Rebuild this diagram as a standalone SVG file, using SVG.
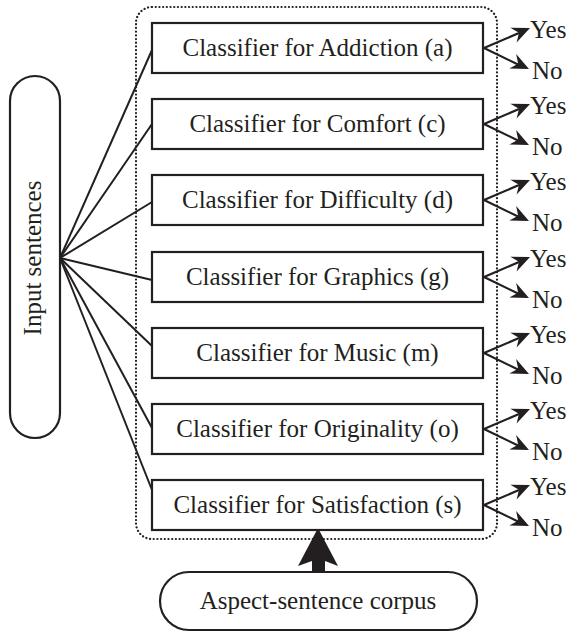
<svg xmlns="http://www.w3.org/2000/svg" width="576" height="633" viewBox="0 0 576 633" font-family="'Liberation Serif', 'Times New Roman', serif">
<style>
text{font-family:'Liberation Serif','Times New Roman',serif;font-size:25px;fill:#231f20}
.box{fill:#fff;stroke:#231f20;stroke-width:2.2}
.pill{fill:#fff;stroke:#231f20;stroke-width:2.2}
.ln{stroke:#231f20;stroke-width:2;fill:none}
.out{stroke:#231f20;stroke-width:2.2;fill:none}
.c{text-anchor:middle}
</style>
<defs>
<path id="ah" d="M0,0 L-18,-8 L-12,0 L-18,8 Z" fill="#231f20"/>
</defs>
<g id="group-frame">
<rect x="136" y="7" width="361" height="532" rx="16" fill="none" stroke="#231f20" stroke-width="2.2" stroke-dasharray="0.1 3.6" stroke-linecap="round"/>
</g>
<g id="connectors">
<line class="ln" x1="60" y1="258" x2="152" y2="50"/>
<line class="ln" x1="60" y1="258" x2="152" y2="124"/>
<line class="ln" x1="60" y1="258" x2="152" y2="202"/>
<line class="ln" x1="60" y1="258" x2="152" y2="280"/>
<line class="ln" x1="60" y1="258" x2="152" y2="346"/>
<line class="ln" x1="60" y1="258" x2="152" y2="428"/>
<line class="ln" x1="60" y1="258" x2="152" y2="490"/>
<g id="out-a">
<line class="out" x1="484" y1="48" x2="519" y2="33"/>
<line class="out" x1="484" y1="48" x2="518" y2="64.5"/>
<use href="#ah" transform="translate(530,28) rotate(-23.3)"/>
<use href="#ah" transform="translate(529,69) rotate(25.3)"/>
</g>
<use href="#out-a" transform="translate(0,76)"/>
<use href="#out-a" transform="translate(0,152)"/>
<use href="#out-a" transform="translate(0,229)"/>
<use href="#out-a" transform="translate(0,305)"/>
<use href="#out-a" transform="translate(0,381)"/>
<use href="#out-a" transform="translate(0,457)"/>
<path d="M318,528 L338,566 L325,561 L325,572 L312,572 L312,561 L298,566 Z" fill="#231f20"/>
</g>
<g id="input">
<rect class="pill" x="10" y="76" width="50" height="362" rx="25"/>
<text class="c" transform="translate(41,258) rotate(-90)">Input sentences</text>
</g>
<g id="clf-a"><rect class="box" x="152" y="23" width="331" height="50"/><text class="c" x="317.5" y="56">Classifier for Addiction (a)</text></g>
<g id="clf-c"><rect class="box" x="152" y="99" width="331" height="50"/><text class="c" x="317.5" y="132">Classifier for Comfort (c)</text></g>
<g id="clf-d"><rect class="box" x="152" y="175" width="331" height="50"/><text class="c" x="317.5" y="208">Classifier for Difficulty (d)</text></g>
<g id="clf-g"><rect class="box" x="152" y="252" width="331" height="50"/><text class="c" x="317.5" y="285">Classifier for Graphics (g)</text></g>
<g id="clf-m"><rect class="box" x="152" y="328" width="331" height="50"/><text class="c" x="317.5" y="361">Classifier for Music (m)</text></g>
<g id="clf-o"><rect class="box" x="152" y="404" width="331" height="50"/><text class="c" x="317.5" y="437">Classifier for Originality (o)</text></g>
<g id="clf-s"><rect class="box" x="152" y="480" width="331" height="50"/><text class="c" x="317.5" y="513">Classifier for Satisfaction (s)</text></g>
<g id="outputs">
<text x="530" y="38">Yes</text><text x="532" y="79">No</text>
<text x="530" y="114">Yes</text><text x="532" y="155">No</text>
<text x="530" y="190">Yes</text><text x="532" y="231">No</text>
<text x="530" y="267">Yes</text><text x="532" y="308">No</text>
<text x="530" y="343">Yes</text><text x="532" y="384">No</text>
<text x="530" y="419">Yes</text><text x="532" y="460">No</text>
<text x="530" y="495">Yes</text><text x="532" y="536">No</text>
</g>
<g id="corpus">
<rect class="pill" x="160" y="572" width="317" height="58" rx="29"/>
<text class="c" x="318" y="609">Aspect-sentence corpus</text>
</g>
</svg>
